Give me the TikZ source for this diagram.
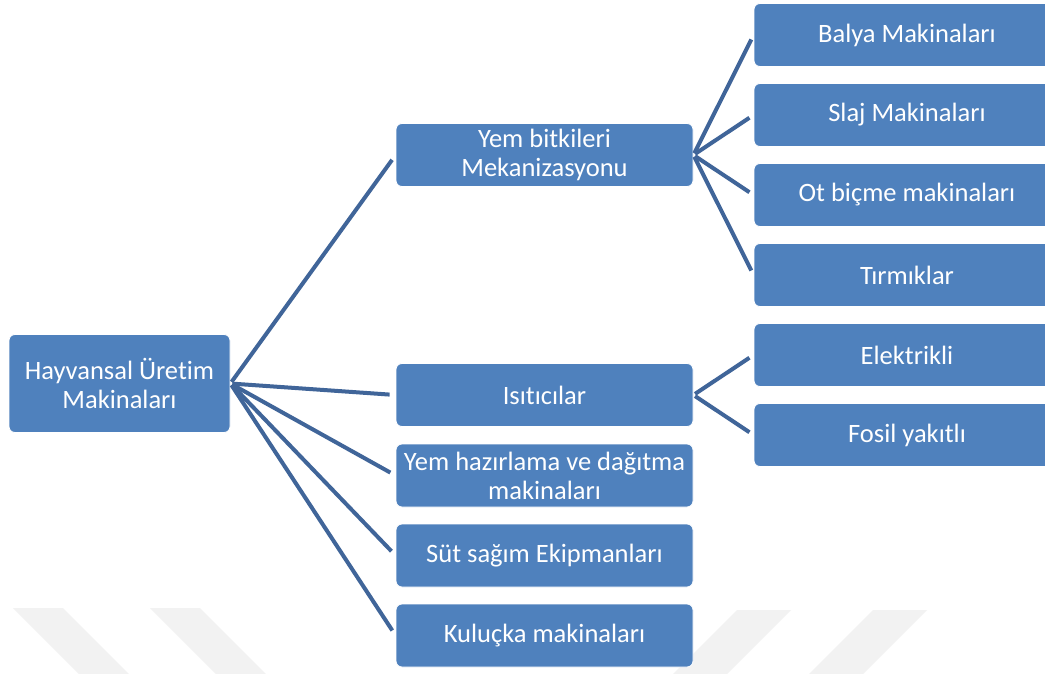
\documentclass[tikz,border=0pt]{standalone}
\usepackage{fontspec}
\setmainfont{Carlito}[Ligatures=NoCommon]
\usepackage{tikz}
\usepackage{xcolor}
\usetikzlibrary{positioning}

\definecolor{boxblue}{RGB}{79,129,189}
\definecolor{linkblue}{RGB}{64,101,153}
\definecolor{stripegray}{RGB}{242,242,242}

\tikzset{
  box/.style={rectangle, rounded corners=6pt, fill=boxblue, draw=white, line width=0.8pt,
    text=white, align=center, inner sep=0pt, font=\fontsize{26.5}{29}\selectfont},
  rootbox/.style={box, minimum width=221pt, minimum height=98pt},
  midbox/.style={box, minimum width=297pt, minimum height=63pt},
  leafbox/.style={box, minimum width=306pt, minimum height=63pt},
  link/.style={draw=linkblue, line width=4pt, shorten <=2pt, shorten >=6pt}
}

\begin{document}
\begin{tikzpicture}[x=1pt,y=-1pt]
  \clip (0,0) rectangle (1045,674);
  \fill[white] (0,0) rectangle (1045,674);

  % === faint stripes along the bottom ===
  \foreach \x in {13,150} {
    \fill[stripegray] (\x,608) -- (\x+50,608) -- (\x+116,674) -- (\x+66,674) -- cycle;
  }
  \foreach \x in {737,873} {
    \fill[stripegray] (\x,610) -- (\x+54,610) -- (\x-10,674) -- (\x-64,674) -- cycle;
  }

  % === ROOT ===
  \node[rootbox] (root) at (119.5,383.5) {Hayvansal Üretim\\Makinaları};

  % === SECOND LEVEL ===
  \node[midbox] (yem)     at (544.5,155)   {Yem bitkileri\\Mekanizasyonu};
  \node[midbox] (isitici) at (544.5,395)   {Isıtıcılar};
  \node[midbox] (hazir)   at (544.5,475.5) {Yem hazırlama ve dağıtma\\makinaları};
  \node[midbox] (sut)     at (544.5,555.5) {Süt sağım Ekipmanları};
  \node[midbox] (kulucka) at (544.5,635.5) {Kuluçka makinaları};

  % === THIRD LEVEL ===
  \node[leafbox] (balya)   at (907,35)  {Balya Makinaları};
  \node[leafbox] (slaj)    at (907,115) {Slaj Makinaları};
  \node[leafbox] (otbicme) at (907,195) {Ot biçme makinaları};
  \node[leafbox] (tirmik)  at (907,275) {Tırmıklar};
  \node[leafbox] (elektr)  at (907,355) {Elektrikli};
  \node[leafbox] (fosil)   at (907,435) {Fosil yakıtlı};

  % === CONNECTORS ===
  \foreach \child in {yem,isitici,hazir,sut,kulucka} {
    \draw[link] (root.east) -- (\child.west);
  }
  \foreach \child in {balya,slaj,otbicme,tirmik} {
    \draw[link, shorten >=5pt] (yem.east) -- (\child.west);
  }
  \foreach \child in {elektr,fosil} {
    \draw[link, shorten >=5pt] (isitici.east) -- (\child.west);
  }
\end{tikzpicture}
\end{document}
